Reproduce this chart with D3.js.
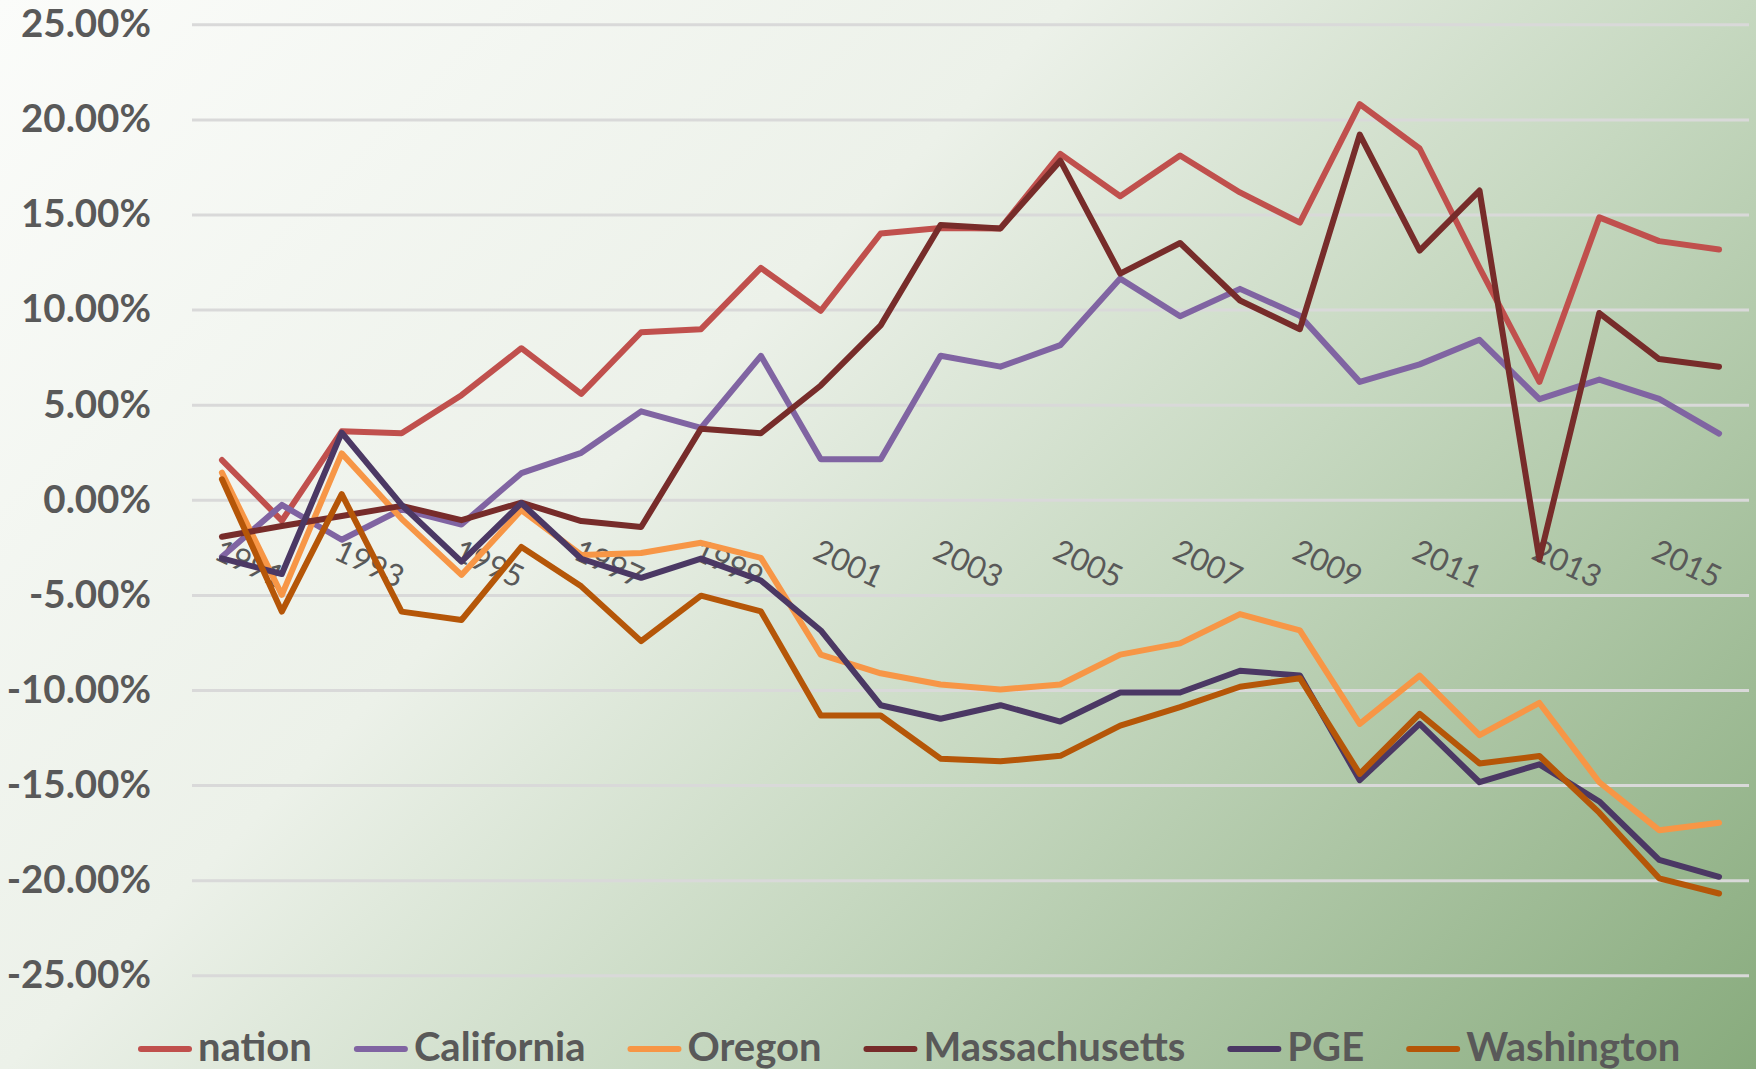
<!DOCTYPE html>
<html>
<head>
<meta charset="utf-8">
<script src="https://cdn.jsdelivr.net/npm/d3@7"></script>
<style>
  body { margin: 0; }
</style>
</head>
<body>
<div id="my_dataviz"></div>
<script>
// categories and tick labels
const years = [1991, 1992, 1993, 1994, 1995, 1996, 1997, 1998, 1999, 2000, 2001, 2002, 2003,
               2004, 2005, 2006, 2007, 2008, 2009, 2010, 2011, 2012, 2013, 2014, 2015, 2016];
const yearLabels = [1991, 1993, 1995, 1997, 1999, 2001, 2003, 2005, 2007, 2009, 2011, 2013, 2015];
const yTicks = [-25, -20, -15, -10, -5, 0, 5, 10, 15, 20, 25];

// series values, in percent
const nation = [2.09, -1.1, 3.6, 3.5, 5.5, 7.97, 5.57, 8.81, 8.97, 12.19, 9.94, 14.0, 14.29,
                14.27, 18.19, 15.96, 18.1, 16.16, 14.57, 20.8, 18.47, 12.2, 6.2, 14.85, 13.6, 13.16];
const california = [-2.99, -0.27, -2.1, -0.5, -1.3, 1.4, 2.47, 4.65, 3.78, 7.57, 2.13, 2.13, 7.57,
                    7.0, 8.13, 11.63, 9.65, 11.09, 9.68, 6.2, 7.12, 8.41, 5.29, 6.32, 5.31, 3.48];
const oregon = [1.43, -5.0, 2.44, -1.0, -3.95, -0.54, -2.9, -2.8, -2.26, -3.05, -8.14, -9.12, -9.71,
                -9.97, -9.71, -8.14, -7.55, -6.01, -6.87, -11.78, -9.24, -12.37, -10.68, -14.85, -17.37, -16.98];
const massachusetts = [-1.94, -1.38, -0.85, -0.32, -1.07, -0.15, -1.12, -1.43, 3.74, 3.5, 6.01, 9.17, 14.45,
                       14.27, 17.83, 11.89, 13.5, 10.48, 8.97, 19.2, 13.1, 16.26, -3.14, 9.82, 7.4, 7.0];
const pge = [-3.08, -3.9, 3.53, -0.27, -3.25, -0.18, -3.1, -4.1, -3.09, -4.24, -6.87, -10.8, -11.51,
             -10.8, -11.66, -10.13, -10.13, -8.99, -9.24, -14.74, -11.78, -14.85, -13.91, -15.86, -18.93, -19.82];
const washington = [1.08, -5.88, 0.3, -5.88, -6.32, -2.48, -4.55, -7.43, -5.04, -5.87, -11.34, -11.34, -13.61,
                    -13.75, -13.46, -11.87, -10.9, -9.83, -9.38, -14.41, -11.25, -13.86, -13.47, -16.45, -19.9, -20.7];

const seriesNames = ["nation", "California", "Oregon", "Massachusetts", "PGE", "Washington"];
const seriesValues = [nation, california, oregon, massachusetts, pge, washington];
const seriesColors = ["#c0504d", "#8064a2", "#f79646", "#772c2a", "#4b3864", "#b55608"];

// dimensions
const width = 1756, height = 1069;
const plot = {left: 192, right: 1749, top: 24.3, bottom: 975.3};
const font = "Lato, 'Open Sans', sans-serif";

const svg = d3.select("#my_dataviz")
  .append("svg")
    .attr("width", width)
    .attr("height", height);

// background: diagonal white -> green gradient
const grad = svg.append("defs").append("linearGradient")
    .attr("id", "bg")
    .attr("gradientUnits", "userSpaceOnUse")
    .attr("x1", 0).attr("y1", 0)
    .attr("x2", 1412).attr("y2", 1412);
grad.append("stop").attr("offset", 0).attr("stop-color", "#fbfcfa");
grad.append("stop").attr("offset", 0.38).attr("stop-color", "#ecf1e9");
grad.append("stop").attr("offset", 0.62).attr("stop-color", "#c6d8c0");
grad.append("stop").attr("offset", 1).attr("stop-color", "#88ab7d");

svg.append("rect")
    .attr("width", width)
    .attr("height", height)
    .attr("fill", "url(#bg)");

const x = d3.scaleBand().domain(years).range([plot.left, plot.right]);
const cx = d => x(d) + x.bandwidth() / 2;
const y = d3.scaleLinear().domain([-25, 25]).range([plot.bottom, plot.top]);

// gridlines
svg.append("g")
    .attr("transform", `translate(${plot.left},0)`)
    .call(d3.axisLeft(y).tickValues(yTicks).tickSize(-(plot.right - plot.left)).tickFormat(""))
    .call(g => g.select(".domain").remove())
    .selectAll("line")
      .attr("stroke", "#d9d9d9")
      .attr("stroke-width", 3);

// y axis labels
svg.append("g")
    .attr("transform", "translate(151,0)")
    .call(d3.axisLeft(y).tickValues(yTicks).tickSize(0).tickPadding(0).tickFormat(d => d.toFixed(2) + "%"))
    .call(g => g.select(".domain").remove())
    .attr("font-family", font)
    .attr("font-size", 38.5)
    .attr("font-weight", "bold")
    .attr("color", "#595959");

// x axis labels, rotated
svg.append("g")
    .attr("transform", "translate(0,538)")
    .call(d3.axisBottom(x).tickValues(yearLabels).tickSize(0).tickPadding(0))
    .call(g => g.select(".domain").remove())
    .attr("font-family", font)
    .attr("font-size", 31)
    .attr("color", "#595959")
    .selectAll("text")
      .attr("y", 0)
      .attr("dy", "0.72em")
      .attr("text-anchor", "start")
      .attr("transform", "rotate(25)");

// the lines
const line = d3.line()
  .x((d, i) => cx(years[i]))
  .y(d => y(d));

seriesValues.forEach((vals, k) => {
  svg.append("path")
    .datum(vals)
    .attr("fill", "none")
    .attr("stroke", seriesColors[k])
    .attr("stroke-width", 6)
    .attr("stroke-linejoin", "round")
    .attr("stroke-linecap", "round")
    .attr("d", line);
});

// legend
const legend = svg.append("g").attr("transform", "translate(0,1049)");
let lx = 141;
seriesNames.forEach((name, k) => {
  legend.append("line")
    .attr("x1", lx).attr("x2", lx + 48)
    .attr("stroke", seriesColors[k])
    .attr("stroke-width", 6)
    .attr("stroke-linecap", "round");
  const t = legend.append("text")
    .attr("x", lx + 57)
    .attr("y", 12)
    .attr("font-family", font)
    .attr("font-size", 40)
    .attr("font-weight", "bold")
    .attr("fill", "#595959")
    .text(name);
  lx += 57 + t.node().getComputedTextLength() + 45;
});
</script>
</body>
</html>
